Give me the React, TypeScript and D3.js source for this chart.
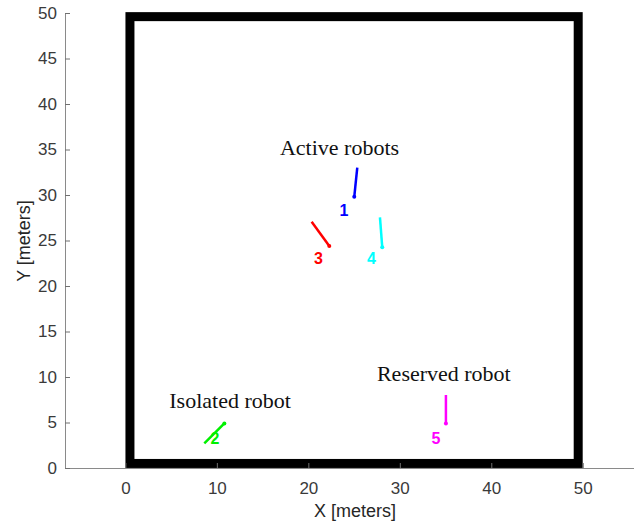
import React, { useEffect, useRef } from "react";
import * as d3 from "d3";

// robots: id, heading segment (start -> end), label position, colour
const robotIds = ["1", "2", "3", "4", "5"];
const robotStartX = [25.35, 8.63, 20.36, 27.83, 35.04];
const robotStartY = [33.0, 2.71, 27.07, 27.55, 8.02];
const robotEndX = [25.02, 10.82, 22.29, 28.08, 35.04];
const robotEndY = [29.8, 4.9, 24.4, 24.25, 4.9];
const labelX = [23.9, 9.8, 21.1, 26.9, 33.95];
const labelY = [28.2, 3.1, 22.9, 22.9, 3.15];
const robotColors = ["#0000ff", "#00f000", "#ff0000", "#00ffff", "#ff00ff"];

// group annotations
const noteTexts = ["Active robots", "Isolated robot", "Reserved robot"];
const noteX = [16.9, 4.8, 27.5];
const noteY = [34.4, 6.6, 9.6];

// arena wall corners
const wallX = [0.5, 49.5];
const wallY = [0.5, 49.6];

const xTicks = [0, 10, 20, 30, 40, 50];
const yTicks = [0, 5, 10, 15, 20, 25, 30, 35, 40, 45, 50];

export default function App() {
  const svgRef = useRef<SVGSVGElement>(null);

  useEffect(() => {
    const w = 634;
    const h = 524;
    const svg = d3.select(svgRef.current).attr("width", w).attr("height", h);
    svg.selectAll("*").remove();

    const x = d3.scaleLinear().domain([-6.6, 55.6]).range([65, 634]);
    const y = d3.scaleLinear().domain([0, 50]).range([468, 13]);

    // walls
    svg
      .append("rect")
      .attr("x", x(wallX[0]))
      .attr("y", y(wallY[1]))
      .attr("width", x(wallX[1]) - x(wallX[0]))
      .attr("height", y(wallY[0]) - y(wallY[1]))
      .attr("fill", "none")
      .attr("stroke", "#000")
      .attr("stroke-width", 9);

    // axes (ticks point inward like matlab)
    const xAxis = d3.axisBottom(x).tickValues(xTicks).tickSize(-5).tickPadding(14);
    const yAxis = d3.axisLeft(y).tickValues(yTicks).tickSize(-5).tickPadding(8);

    const gx = svg.append("g").attr("transform", "translate(0,468)").call(xAxis);
    const gy = svg.append("g").attr("transform", "translate(65,0)").call(yAxis);
    [gx, gy].forEach((g) => {
      g.select(".domain").attr("stroke", "#8a8a8a");
      g.selectAll(".tick line").attr("stroke", "#707070");
      g.selectAll(".tick text")
        .attr("fill", "#3a3a3a")
        .style("font-family", "'Liberation Sans', Arial, sans-serif")
        .style("font-size", "17px");
    });
    gx.select(".domain").attr("d", "M65,0.5H634");

    svg
      .append("text")
      .attr("x", 355)
      .attr("y", 517)
      .attr("text-anchor", "middle")
      .attr("fill", "#262626")
      .style("font-family", "'Liberation Sans', Arial, sans-serif")
      .style("font-size", "18px")
      .text("X [meters]");
    svg
      .append("text")
      .attr("transform", "translate(30,241) rotate(-90)")
      .attr("text-anchor", "middle")
      .attr("fill", "#262626")
      .style("font-family", "'Liberation Sans', Arial, sans-serif")
      .style("font-size", "18px")
      .text("Y [meters]");

    // robots
    robotIds.forEach((id, i) => {
      svg
        .append("line")
        .attr("x1", x(robotStartX[i]))
        .attr("y1", y(robotStartY[i]))
        .attr("x2", x(robotEndX[i]))
        .attr("y2", y(robotEndY[i]))
        .attr("stroke", robotColors[i])
        .attr("stroke-width", 2.5);
      svg
        .append("circle")
        .attr("cx", x(robotEndX[i]))
        .attr("cy", y(robotEndY[i]))
        .attr("r", 2)
        .attr("fill", robotColors[i]);
      svg
        .append("text")
        .attr("x", x(labelX[i]))
        .attr("y", y(labelY[i]))
        .attr("text-anchor", "middle")
        .attr("dominant-baseline", "middle")
        .attr("fill", robotColors[i])
        .style("font-family", "'Liberation Sans', Arial, sans-serif")
        .style("font-weight", "bold")
        .style("font-size", "16px")
        .text(id);
    });

    noteTexts.forEach((t, i) => {
      svg
        .append("text")
        .attr("x", x(noteX[i]))
        .attr("y", y(noteY[i]))
        .attr("fill", "#111")
        .style("font-family", "'Liberation Serif', 'Times New Roman', serif")
        .style("font-size", "22px")
        .text(t);
    });
  }, []);

  return (
    <svg
      ref={svgRef}
      style={{ position: "absolute", left: 0, top: 0, background: "#fff" }}
    ></svg>
  );
}
